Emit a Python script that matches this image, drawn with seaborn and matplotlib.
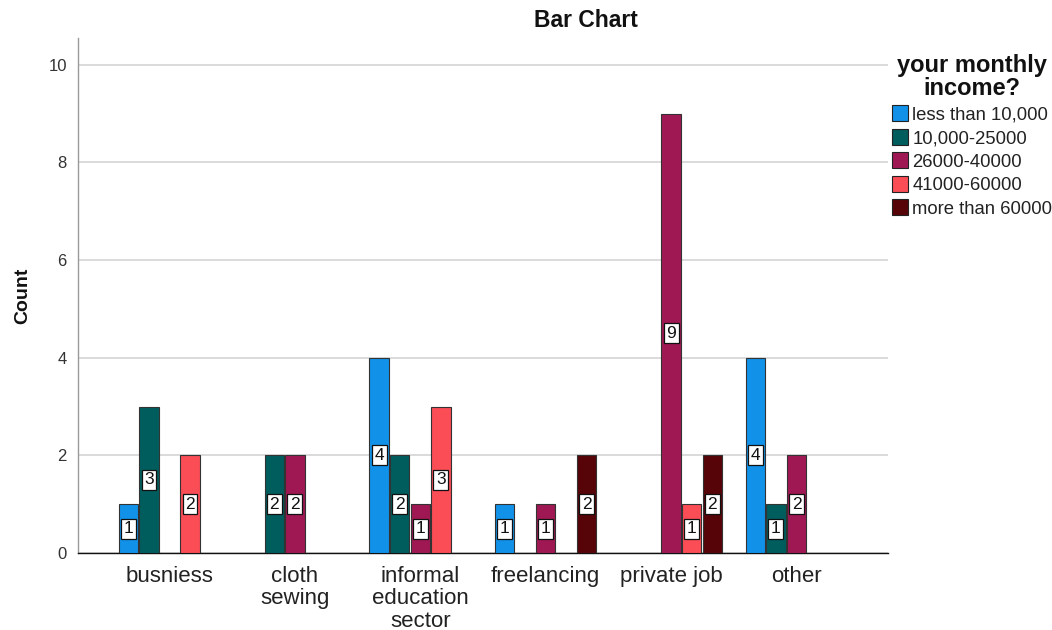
import matplotlib
matplotlib.use("Agg")
import matplotlib.pyplot as plt
import seaborn as sns
import pandas as pd

# Occupation categories along the x axis
occupations = ["busniess", "cloth\nsewing", "informal\neducation\nsector",
               "freelancing", "private job", "other"]

# Income groups (legend entries)
income_groups = ["less than 10,000", "10,000-25000", "26000-40000",
                 "41000-60000", "more than 60000"]

# Counts per income group, one value per occupation
less_than_10000 = [1, 0, 4, 1, 0, 4]
from_10000_25000 = [3, 2, 2, 0, 0, 1]
from_26000_40000 = [0, 2, 1, 1, 9, 2]
from_41000_60000 = [2, 0, 3, 0, 1, 0]
more_than_60000 = [0, 0, 0, 2, 2, 0]

series = [less_than_10000, from_10000_25000, from_26000_40000,
          from_41000_60000, more_than_60000]

rows = []
for group, counts in zip(income_groups, series):
    for occ, c in zip(occupations, counts):
        if c > 0:
            rows.append({"occupation": occ, "income": group, "count": c})
df = pd.DataFrame(rows)

palette = ["#1192e8", "#005d5d", "#9f1853", "#fa4d56", "#570408"]

sns.set_theme(style="white")
plt.rcParams["font.family"] = ["Liberation Sans", "DejaVu Sans"]

fig = plt.figure(figsize=(10.52, 6.3), dpi=100)
ax = fig.add_axes([0.0741, 0.1222, 0.770, 0.8175])

sns.barplot(data=df, x="occupation", y="count", hue="income",
            order=occupations, hue_order=income_groups, palette=palette,
            width=0.82, gap=0.06, saturation=1, edgecolor="#333333",
            linewidth=0.8, ax=ax, zorder=3)

for cont in ax.containers:
    ax.bar_label(cont, label_type="center", fontsize=12.5, color="#111111",
                 bbox=dict(boxstyle="square,pad=0.15", fc="white",
                           ec="#111111", lw=0.9), zorder=5)

ax.set_xlim(-0.73, 5.73)
ax.set_ylim(0, 10.55)
ax.set_yticks([0, 2, 4, 6, 8, 10])
ax.yaxis.grid(True, color="#d4d4d4", linewidth=1.2, zorder=0)
ax.xaxis.grid(False)

for s in ["top", "right"]:
    ax.spines[s].set_visible(False)
ax.spines["left"].set_color("#999999")
ax.spines["left"].set_linewidth(1.0)
ax.spines["bottom"].set_color("#111111")
ax.spines["bottom"].set_linewidth(1.0)

ax.tick_params(axis="x", length=0, pad=9, labelsize=16, labelcolor="#222222")
ax.tick_params(axis="y", length=0, pad=8, labelsize=12, labelcolor="#333333")
for lbl in ax.get_xticklabels():
    lbl.set_linespacing(1.1)
ax.set_xlabel("")
ax.set_ylabel("Count", fontsize=14, fontweight="bold", color="#111111",
              labelpad=12)
fig.text(0.557, 0.968, "Bar Chart", fontsize=16.5, fontweight="bold",
         color="#111111", ha="center", va="center")

leg = ax.legend(title="your monthly\nincome?", loc="upper left",
                bbox_to_anchor=(0.846, 0.917), bbox_transform=fig.transFigure,
                frameon=False, fontsize=13.3,
                title_fontproperties={"size": 17, "weight": "bold"},
                handlelength=0.85, handleheight=0.95, handletextpad=0.25,
                labelspacing=0.28, borderaxespad=0.0, borderpad=0.1)
leg._legend_box.align = "center"
leg.get_title().set_multialignment("center")
leg.get_title().set_linespacing(1.0)
leg.get_title().set_color("#111111")
for h in leg.legend_handles:
    h.set_edgecolor("#222222")
    h.set_linewidth(0.8)
for t in leg.get_texts():
    t.set_color("#222222")

fig.savefig("out.png", dpi=100, facecolor="white")
